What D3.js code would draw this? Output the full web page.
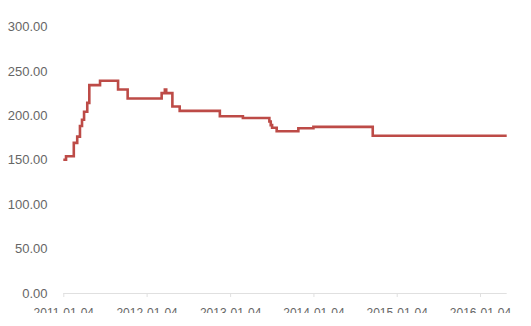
<!DOCTYPE html>
<html>
<head>
<meta charset="utf-8">
<script src="https://cdn.jsdelivr.net/npm/d3@7"></script>
<style>
  body { margin: 0; background: #fff; }
  svg { display: block; overflow: hidden; }
</style>
</head>
<body>
<div id="chart"></div>
<script>
// step series: date of each change and the value from that date on
var changeDates = [
  "2011-01-04", "2011-01-16", "2011-02-19", "2011-03-06", "2011-03-18",
  "2011-03-27", "2011-04-05", "2011-04-19", "2011-04-28", "2011-06-14",
  "2011-09-01", "2011-10-13", "2012-03-10", "2012-03-24", "2012-03-30",
  "2012-04-26", "2012-05-28", "2012-11-20", "2013-03-01", "2013-06-25",
  "2013-07-01", "2013-07-07", "2013-07-27", "2013-10-30", "2014-01-04",
  "2014-09-21", "2016-04-30"
];
var prices = [
  150, 154, 169, 176, 188,
  195, 204, 214, 234, 239,
  229, 219, 225, 229, 225,
  210, 205, 199, 197, 193,
  189, 186, 182, 185.5, 187,
  177, 177
];
var yTicks = [0, 50, 100, 150, 200, 250, 300];
var xTickDates = ["2011-01-04", "2012-01-04", "2013-01-04", "2014-01-04", "2015-01-04", "2016-01-04"];

var svgWidth = 531;
var svgHeight = 313;

var parse = d3.timeParse("%Y-%m-%d");
var fmt = d3.timeFormat("%Y-%m-%d");

var data = changeDates.map(function(d, i) {
  return { date: parse(d), value: prices[i] };
});

var svg = d3.select("#chart")
  .append("svg")
    .attr("width", svgWidth)
    .attr("height", svgHeight);

// time axis: 2011-01-04 -> 63.3px, 2016-01-04 -> 480px
var x = d3.scaleTime()
  .domain([parse("2011-01-04"), parse("2016-01-04")])
  .range([63.3, 480]);

var y = d3.scaleLinear()
  .domain([0, 300])
  .range([293, 26.5]);

// y labels only, no axis line
var yAxis = svg.append("g")
  .attr("transform", "translate(47.5,0)")
  .call(d3.axisLeft(y).tickValues(yTicks).tickSize(0).tickPadding(0)
    .tickFormat(function(d) { return d3.format(".2f")(d); }));
yAxis.select(".domain").remove();
yAxis.selectAll("text")
  .attr("fill", "#666")
  .style("font-family", "'Liberation Sans', Arial, sans-serif")
  .style("font-size", "13px");

// x axis
var xAxis = svg.append("g")
  .attr("transform", "translate(0,293)")
  .call(d3.axisBottom(x).tickValues(xTickDates.map(parse)).tickSize(4).tickPadding(11)
    .tickSizeOuter(0).tickFormat(fmt));
xAxis.select(".domain")
  .attr("d", "M" + x.range()[0] + ",0.5H" + x(data[data.length - 1].date))
  .attr("stroke", "#e0e0e0");
xAxis.selectAll(".tick line").attr("stroke", "#e0e0e0");
xAxis.selectAll("text")
  .attr("fill", "#666")
  .style("font-family", "'Liberation Sans', Arial, sans-serif")
  .style("font-size", "12px");

// the price line
var line = d3.line()
  .x(function(d) { return x(d.date); })
  .y(function(d) { return y(d.value); })
  .curve(d3.curveStepAfter);

svg.append("path")
  .datum(data)
  .attr("d", line)
  .attr("fill", "none")
  .attr("stroke", "#bd4b47")
  .attr("stroke-width", 2.6);
</script>
</body>
</html>
